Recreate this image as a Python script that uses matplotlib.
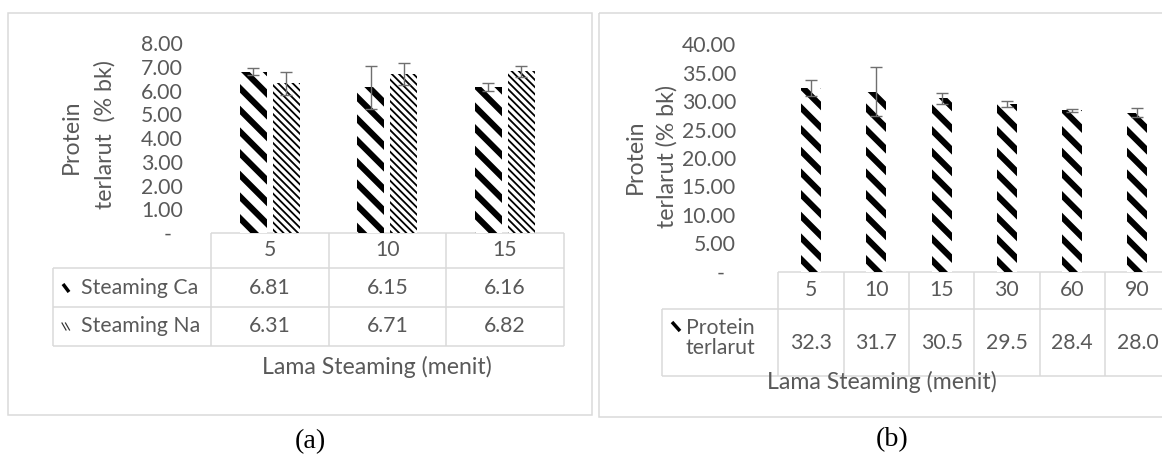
import matplotlib.pyplot as plt
from matplotlib.patches import Rectangle

# Soluble protein (% dry basis) after steaming
minutes_a = ["5", "10", "15"]
steam_ca = [6.81, 6.15, 6.16]
steam_na = [6.31, 6.71, 6.82]
err_ca = [0.15, 0.90, 0.17]
err_na = [0.47, 0.48, 0.23]
yticks_a = [0, 1, 2, 3, 4, 5, 6, 7, 8]

minutes_b = ["5", "10", "15", "30", "60", "90"]
protein_b = [32.3, 31.7, 30.5, 29.5, 28.4, 28.0]
err_b = [1.4, 4.3, 1.0, 0.5, 0.2, 0.8]
yticks_b = [0, 5, 10, 15, 20, 25, 30, 35, 40]

W, H, DPI = 1162, 457, 130
GRAY = "#595959"
LINE = "#d9d9d9"
FONT = "Lato"
pt = 72.0 / DPI  # points per pixel
FS = 11.8        # ticks and table text
FT = 12.8        # axis titles

plt.rcParams["font.family"] = [FONT, "DejaVu Sans"]

fig = plt.figure(figsize=(W / DPI, H / DPI), dpi=DPI)
fig.patch.set_facecolor("white")

# overlay in pixel coordinates for frames, tables and captions
ov = fig.add_axes([0, 0, 1, 1], zorder=0)
ov.set_xlim(0, W)
ov.set_ylim(H, 0)
ov.axis("off")


def px_axes(left, top, width, height):
    ax = fig.add_axes([left / W, 1 - (top + height) / H, width / W, height / H], zorder=2)
    ax.patch.set_alpha(0)
    for s in ax.spines.values():
        s.set_visible(False)
    return ax


def hline(x0, x1, y):
    ov.plot([x0, x1], [y, y], color=LINE, lw=1.5 * pt, solid_capstyle="butt")


def vline(x, y0, y1):
    ov.plot([x, x], [y0, y1], color=LINE, lw=1.5 * pt, solid_capstyle="butt")


def set_hlw(bars, lw):
    for b in bars:
        if hasattr(b, "set_hatch_linewidth"):
            b.set_hatch_linewidth(lw)


def yaxis(ax, ticks, pad_px):
    ax.set_yticks(ticks)
    ax.set_yticklabels(["-  " if t == 0 else f"{t:.2f}" for t in ticks])
    ax.tick_params(axis="y", length=0, pad=pad_px * pt, labelsize=FS, labelcolor=GRAY)
    ax.set_xticks([])


# panel frames
ov.add_patch(Rectangle((7.5, 13), 584.5, 402, fill=False, ec=LINE, lw=1.5 * pt))
ov.add_patch(Rectangle((599, 13), 600, 404, fill=False, ec=LINE, lw=1.5 * pt))

# ---------------- (a) ----------------
a_left, a_col, a_top, a_base = 211, 117.5, 43.3, 233
ax1 = px_axes(a_left, a_top, a_col * 3, a_base - a_top)
xa = [i + 0.5 for i in range(len(minutes_a))]
ax1.set_xlim(0, 3)
ax1.set_ylim(0, 8)
ekw = dict(ecolor="#6f6f6f", elinewidth=1.4 * pt, capsize=6.3 * pt, capthick=1.4 * pt)
b1 = ax1.bar([x - 0.14 for x in xa], steam_ca, 0.23, color="white", edgecolor="black",
             lw=0, hatch="\\\\", yerr=err_ca, error_kw=ekw)
set_hlw(b1, 3.4)
b2 = ax1.bar([x + 0.14 for x in xa], steam_na, 0.23, color="white", edgecolor="black",
             lw=0, hatch="\\" * 6, yerr=err_na, error_kw=ekw)
set_hlw(b2, 1.0)
yaxis(ax1, yticks_a, a_left - 183)

ov.text(71, 137, "Protein", rotation=90, ha="center", va="center", color=GRAY, fontsize=FT)
ov.text(105, 135, "terlarut  (% bk)", rotation=90, ha="center", va="center", color=GRAY,
        fontsize=FT)

# data table under (a)
edges_a = [a_left + i * a_col for i in range(len(minutes_a) + 1)]
rows_a = [233, 268, 307, 346]
leg_a = 53
hline(edges_a[0], edges_a[-1], rows_a[0])
for y in rows_a[1:]:
    hline(leg_a, edges_a[-1], y)
vline(leg_a, rows_a[1], rows_a[-1])
for x in edges_a:
    vline(x, rows_a[0], rows_a[-1])
for i, lab in enumerate(minutes_a):
    cx = (edges_a[i] + edges_a[i + 1]) / 2
    ov.text(cx, (rows_a[0] + rows_a[1]) / 2, lab, ha="center", va="center", color=GRAY,
            fontsize=FS)
    ov.text(cx, (rows_a[1] + rows_a[2]) / 2, f"{steam_ca[i]:.2f}", ha="center", va="center",
            color=GRAY, fontsize=FS)
    ov.text(cx, (rows_a[2] + rows_a[3]) / 2, f"{steam_na[i]:.2f}", ha="center", va="center",
            color=GRAY, fontsize=FS)
ov.text(81, (rows_a[1] + rows_a[2]) / 2, "Steaming Ca", ha="left", va="center", color=GRAY,
        fontsize=FS)
ov.text(81, (rows_a[2] + rows_a[3]) / 2, "Steaming Na", ha="left", va="center", color=GRAY,
        fontsize=FS)
ov.plot([63, 69], [284, 292], color="black", lw=3.5 * pt, solid_capstyle="butt")
for dx in (0, 3.5):
    ov.plot([62 + dx, 66 + dx], [323, 330], color="#333333", lw=1.2 * pt)
ov.text(377, 367, "Lama Steaming (menit)", ha="center", va="center", color=GRAY, fontsize=FT)
ov.text(310, 442, "(a)", ha="center", va="center", fontsize=15.5, family="Liberation Serif")

# ---------------- (b) ----------------
b_left, b_col, b_top, b_base = 778.3, 65.3, 44.5, 271.7
ax2 = px_axes(b_left, b_top, b_col * 6, b_base - b_top)
xb = [i + 0.5 for i in range(len(minutes_b))]
ax2.set_xlim(0, 6)
ax2.set_ylim(0, 40)
ekw2 = dict(ecolor="#6f6f6f", elinewidth=1.4 * pt, capsize=5.8 * pt, capthick=1.4 * pt)
b3 = ax2.bar(xb, protein_b, 0.306, color="white", edgecolor="black", lw=0, hatch="\\\\",
             yerr=err_b, error_kw=ekw2)
set_hlw(b3, 3.4)
yaxis(ax2, yticks_b, b_left - 736)

ov.text(635, 157, "Protein", rotation=90, ha="center", va="center", color=GRAY, fontsize=FT)
ov.text(667, 157, "terlarut (% bk)", rotation=90, ha="center", va="center", color=GRAY,
        fontsize=FT)

edges_b = [b_left + i * b_col for i in range(len(minutes_b) + 1)]
rows_b = [271.7, 309.3, 376]
leg_b = 662
hline(edges_b[0], edges_b[-1], rows_b[0])
for y in rows_b[1:]:
    hline(leg_b, edges_b[-1], y)
vline(leg_b, rows_b[1], rows_b[-1])
for x in edges_b:
    vline(x, rows_b[0], rows_b[-1])
for i, lab in enumerate(minutes_b):
    cx = (edges_b[i] + edges_b[i + 1]) / 2
    ov.text(cx, (rows_b[0] + rows_b[1]) / 2, lab, ha="center", va="center", color=GRAY,
            fontsize=FS)
    ov.text(cx, (rows_b[1] + rows_b[2]) / 2, f"{protein_b[i]:.1f}", ha="center", va="center",
            color=GRAY, fontsize=FS)
ov.text(755, 328, "Protein", ha="right", va="center", color=GRAY, fontsize=FS)
ov.text(755, 348, "terlarut", ha="right", va="center", color=GRAY, fontsize=FS)
ov.plot([672, 680], [322, 331], color="black", lw=3.5 * pt, solid_capstyle="butt")
ov.text(882, 382, "Lama Steaming (menit)", ha="center", va="center", color=GRAY, fontsize=FT)
ov.text(892, 440, "(b)", ha="center", va="center", fontsize=15.5, family="Liberation Serif")

fig.savefig("out.png", dpi=DPI, facecolor="white")
